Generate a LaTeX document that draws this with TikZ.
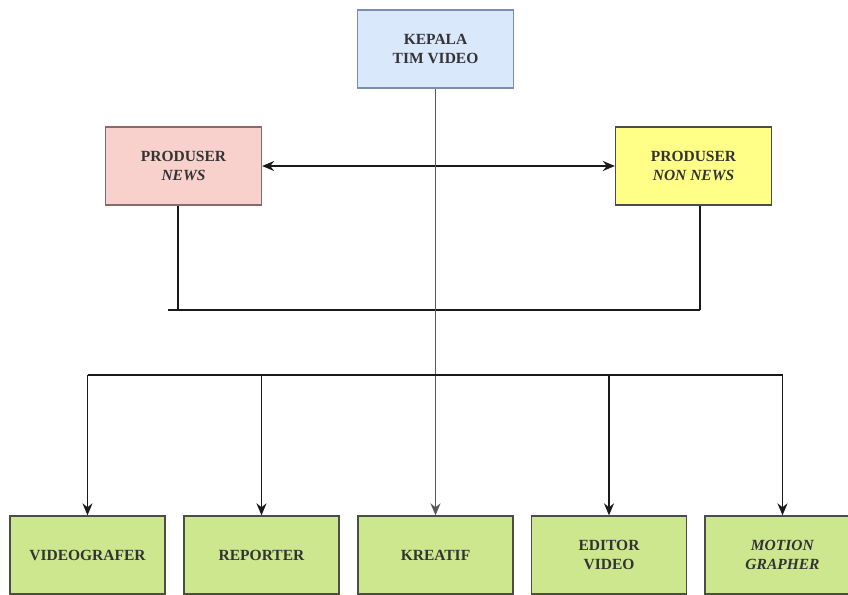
\documentclass[tikz,border=0pt]{standalone}
\usepackage{fontspec}
\setmainfont{Liberation Serif}
\usetikzlibrary{arrows.meta}
\definecolor{bluefill}{HTML}{DAE8FC}
\definecolor{blueline}{HTML}{7A8FAF}
\definecolor{pinkfill}{HTML}{F8D0CC}
\definecolor{pinkline}{HTML}{8A6A64}
\definecolor{yellowfill}{HTML}{FFFF88}
\definecolor{greenfill}{HTML}{CDE78E}
\definecolor{darkline}{HTML}{4A4E46}
\definecolor{wire}{HTML}{1A1A1A}
\tikzset{
  box/.style={draw, line width=1.3pt, minimum width=156pt, minimum height=78pt,
    align=center, inner sep=0pt, font=\fontsize{15.5}{18.5}\selectfont\bfseries, text=black!80},
  topbox/.style={box, fill=bluefill, draw=blueline},
  pinkbox/.style={box, fill=pinkfill, draw=pinkline},
  yellowbox/.style={box, fill=yellowfill, draw=darkline},
  greenbox/.style={box, fill=greenfill, draw=darkline, minimum width=155pt},
  wireline/.style={draw=wire, line width=1.5pt},
  arrowline/.style={wireline, -{Stealth[length=12pt,width=10pt]}},
  dblarrow/.style={wireline, {Stealth[length=12pt,width=10pt]}-{Stealth[length=12pt,width=10pt]}}
}
\begin{document}
\begin{tikzpicture}[x=1pt,y=-1pt]
\useasboundingbox (0,0) rectangle (848,594);
\clip (0,0) rectangle (848,594);
\fill[white] (0,0) rectangle (848,594);

\node[topbox] (kepala) at (435.5,49) {KEPALA\\TIM VIDEO};
\node[pinkbox] (news) at (183.5,166) {PRODUSER\\\textit{NEWS}};
\node[yellowbox] (nonnews) at (693.5,166) {PRODUSER\\\textit{NON NEWS}};

\node[greenbox] (vg) at (87.5,555) {VIDEOGRAFER};
\node[greenbox] (rep) at (261.5,555) {REPORTER};
\node[greenbox] (kre) at (435.5,555) {KREATIF};
\node[greenbox] (edit) at (609,555) {EDITOR\\VIDEO};
\node[greenbox] (mot) at (782.5,555) {\textit{MOTION}\\\textit{GRAPHER}};

% producer link
\draw[dblarrow] (news.east) -- (nonnews.west);

% producers to join line
\coordinate (nl) at (178,310);
\coordinate (nr) at (700,310);
\coordinate (nstart) at (168,310);
\draw[wireline] (nl |- news.south) -- (nl);
\draw[wireline] (nr |- nonnews.south) -- (nr);
\draw[wireline] (nstart) -- (nr);

% main trunk
\draw[arrowline, draw=black!65] (kepala.south) -- (kre.north);

% distribution bus
\coordinate (busL) at (87.5,375);
\coordinate (busR) at (782.5,375);
\draw[wireline] (busL) -- (busR);
\draw[arrowline] (busL) -- (vg.north);
\draw[arrowline] (rep.north |- busL) -- (rep.north);
\draw[arrowline] (edit.north |- busL) -- (edit.north);
\draw[arrowline] (busR) -- (mot.north);
\end{tikzpicture}
\end{document}
